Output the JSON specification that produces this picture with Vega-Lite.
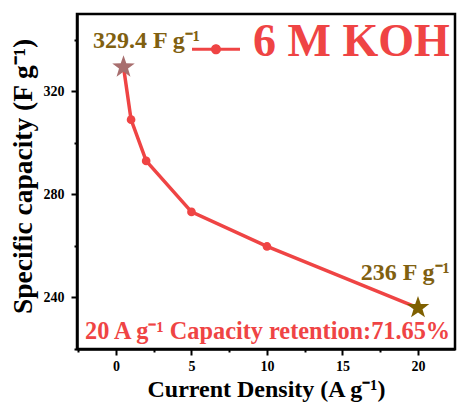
{
  "$schema": "https://vega.github.io/schema/vega-lite/v6.json",
  "autosize": "none",
  "width": 378,
  "height": 335,
  "padding": {"left": 77, "top": 14, "right": 3, "bottom": 59},
  "background": "white",
  "config": {
    "view": {"stroke": "black", "strokeWidth": 2.5},
    "font": "Liberation Serif",
    "axis": {
      "domainColor": "black", "domainWidth": 2.5, "tickColor": "black", "tickWidth": 2,
      "labelFont": "Liberation Serif", "labelFontWeight": "bold", "labelFontSize": 14, "labelColor": "black",
      "titleFont": "Liberation Serif", "titleFontWeight": "bold", "titleColor": "black", "grid": false
    }
  },
  "datasets": {
    "cap": [
      {"series": "6 M KOH", "density": 0.5, "capacity": 329.4},
      {"series": "6 M KOH", "density": 1, "capacity": 309},
      {"series": "6 M KOH", "density": 2, "capacity": 293},
      {"series": "6 M KOH", "density": 5, "capacity": 273.2},
      {"series": "6 M KOH", "density": 10, "capacity": 259.8},
      {"series": "6 M KOH", "density": 20, "capacity": 236}
    ],
    "notes": [
      {"kind": "high", "label": "329.4 F g⁻¹", "density": -1.52, "capacity": 337},
      {"kind": "low", "label": "236 F g⁻¹", "density": 22.1, "capacity": 246.9},
      {"kind": "retention", "label": "20 A g⁻¹ Capacity retention:71.65%", "density": -2.05, "capacity": 224}
    ]
  },
  "encoding": {
    "x": {"field": "density", "type": "quantitative",
      "scale": {"domain": [-2.58, 22.45], "nice": false, "zero": false},
      "axis": {"values": [-2.5, 0, 2.5, 5, 7.5, 10, 12.5, 15, 17.5, 20],
        "labelExpr": "datum.value % 5 === 0 ? datum.label : ''",
        "tickSize": {"condition": {"test": "datum.value % 5 === 0", "value": 6}, "value": 3},
        "labelPadding": 4, "title": "Current Density (A g⁻¹)", "titleFontSize": 24, "titlePadding": 4}},
    "y": {"field": "capacity", "type": "quantitative",
      "scale": {"domain": [220, 350], "nice": false, "zero": false},
      "axis": {"values": [220, 240, 260, 280, 300, 320, 340],
        "labelExpr": "datum.value % 40 === 0 ? datum.label : ''",
        "tickSize": {"condition": {"test": "datum.value % 40 === 0", "value": 6}, "value": 3},
        "labelPadding": 7, "title": "Specific capacity (F g⁻¹)", "titleFontSize": 27.5, "titlePadding": 6, "titleY": 162}}
  },
  "layer": [
    {"data": {"name": "cap"},
     "mark": {"type": "line", "strokeWidth": 3.5},
     "encoding": {"color": {"field": "series", "type": "nominal",
       "scale": {"range": ["#EF4444"]},
       "legend": {"title": null, "orient": "none", "legendX": 115, "legendY": 4, "padding": 0,
         "symbolType": "M-1,0.235L1,0.235L1,0.365L-1,0.365Z M-0.21,0.3A0.21,0.21 0 1,1 0.21,0.3A0.21,0.21 0 1,1 -0.21,0.3Z",
         "symbolSize": 2304, "symbolFillColor": "#EF4444", "symbolStrokeWidth": 0, "symbolStrokeColor": "#EF4444",
         "labelFont": "Liberation Serif", "labelFontWeight": "bold", "labelFontSize": 46, "labelColor": "#EF4444",
         "labelOffset": 13, "labelLimit": 400,
         "encode": {"symbols": {"update": {"fill": {"value": "#EF4444"}, "strokeWidth": {"value": 0}}}}}}}},
    {"data": {"name": "cap"},
     "transform": [{"filter": "datum.density > 0.5 && datum.density < 20"}],
     "mark": {"type": "point", "shape": "circle", "filled": true, "opacity": 1, "size": 75, "color": "#EF4444"}},
    {"data": {"name": "cap"},
     "transform": [{"filter": "datum.density === 0.5"}],
     "mark": {"type": "point", "filled": true, "opacity": 1, "size": 560, "color": "#A86E6E",
       "shape": "M0,-1L0.235,-0.324L0.951,-0.309L0.38,0.124L0.588,0.809L0,0.4L-0.588,0.809L-0.38,0.124L-0.951,-0.309L-0.235,-0.324Z"}},
    {"data": {"name": "cap"},
     "transform": [{"filter": "datum.density === 20"}],
     "mark": {"type": "point", "filled": true, "opacity": 1, "size": 560, "color": "#7F6000",
       "shape": "M0,-1L0.235,-0.324L0.951,-0.309L0.38,0.124L0.588,0.809L0,0.4L-0.588,0.809L-0.38,0.124L-0.951,-0.309L-0.235,-0.324Z"}},
    {"data": {"name": "notes"},
     "transform": [{"filter": "datum.kind === 'high'"}],
     "mark": {"type": "text", "align": "left", "baseline": "alphabetic", "font": "Liberation Serif", "fontWeight": "bold", "fontSize": 24, "color": "#806010"},
     "encoding": {"text": {"field": "label"}}},
    {"data": {"name": "notes"},
     "transform": [{"filter": "datum.kind === 'low'"}],
     "mark": {"type": "text", "align": "right", "baseline": "alphabetic", "font": "Liberation Serif", "fontWeight": "bold", "fontSize": 24, "color": "#806010"},
     "encoding": {"text": {"field": "label"}}},
    {"data": {"name": "notes"},
     "transform": [{"filter": "datum.kind === 'retention'"}],
     "mark": {"type": "text", "align": "left", "baseline": "alphabetic", "font": "Liberation Serif", "fontWeight": "bold", "fontSize": 24.3, "color": "#EF4444"},
     "encoding": {"text": {"field": "label"}}}
  ]
}
